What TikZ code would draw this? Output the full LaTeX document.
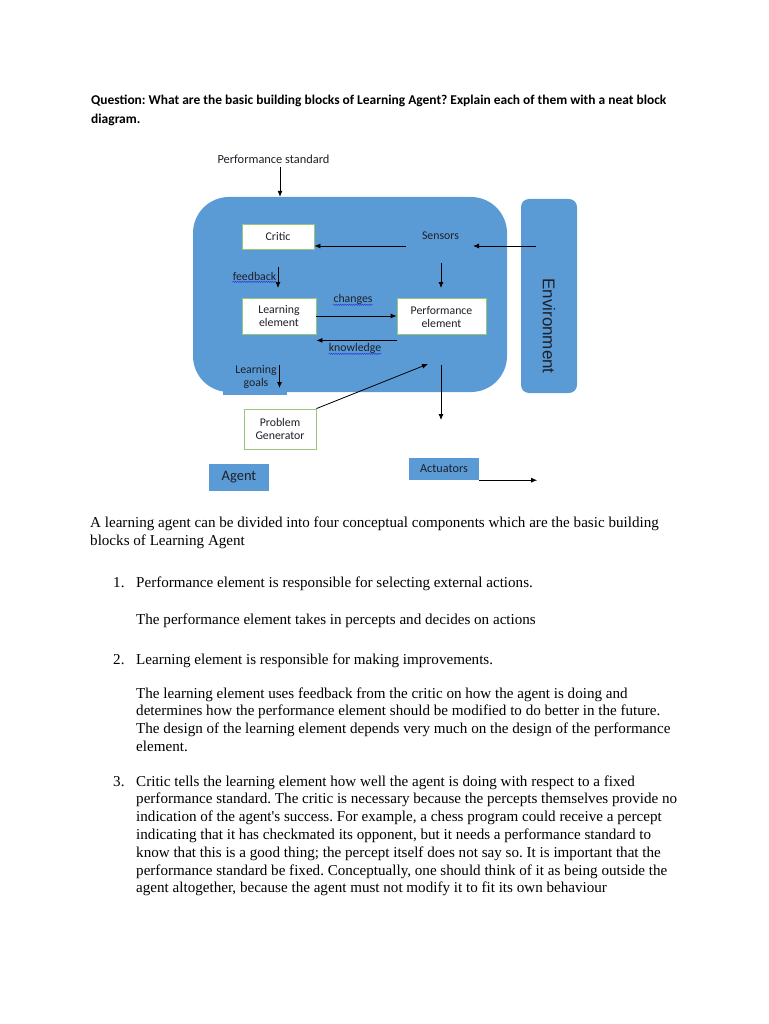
\documentclass[tikz,border=0pt]{standalone}
\usepackage{fontspec}
\setmainfont{Liberation Serif}
\newfontfamily\calibri{Carlito}
\newfontfamily\arial{Liberation Sans}
\usepackage{tikz}
\usetikzlibrary{arrows.meta,positioning,decorations.pathmorphing}
\frenchspacing

\definecolor{officeblue}{RGB}{91,155,213}
\definecolor{boxgreen}{RGB}{150,200,120}
\definecolor{spellblue}{RGB}{40,60,220}
\definecolor{labeltext}{RGB}{30,30,40}

\tikzstyle{block} = [rectangle, draw=boxgreen, fill=white, line width=0.8pt,
    text centered, align=center, inner sep=0pt, text=labeltext,
    font=\calibri\fontsize{11.8}{13}\selectfont]
\tikzstyle{bluebox} = [rectangle, fill=officeblue, inner sep=0pt, text=labeltext,
    font=\calibri\fontsize{12.2}{13}\selectfont]
\tikzstyle{lbl} = [inner sep=0pt, align=center, text=labeltext,
    font=\calibri\fontsize{11.8}{12.5}\selectfont]
\tikzstyle{arr} = [-{Latex[length=6pt,width=5pt]}, line width=0.8pt]
% multi-line nodes: base is the baseline of the last line
\tikzstyle{para} = [anchor=base west, align=left, inner sep=0pt,
    font=\fontsize{15.1}{17.8}\selectfont]
\tikzstyle{spell} = [spellblue, line width=0.5pt, decorate,
    decoration={snake, amplitude=0.6pt, segment length=2.2pt}]

\begin{document}
\begin{tikzpicture}[x=1pt,y=-1pt]
\useasboundingbox (0,0) rectangle (768,1024);

% question
\node[para, font=\calibri\bfseries\fontsize{13.45}{19}\selectfont] (question) at (91,124)
    {Question: What are the basic building blocks of Learning Agent? Explain each of them with a neat block\\diagram.};

% agent and environment
\node[lbl, font=\calibri\fontsize{12.4}{13}\selectfont] (perfstd) at (273.5,159) {Performance standard};
\node[bluebox, rounded corners=36pt, minimum width=314pt, minimum height=195pt] (agentbody) at (350,294.5) {};
\fill[officeblue] (223,380) rectangle (287,395);
\node[bluebox, rounded corners=8pt, minimum width=56pt, minimum height=194pt] (env) at (549,296) {};
\node[lbl, rotate=-90, font=\arial\fontsize{17}{17}\selectfont] (envtext) at ([yshift=-30pt]env.center) {Environment};

% blocks
\node[block, minimum width=72pt, minimum height=25pt] (critic) at (278,236.5) {Critic};
\node[lbl] (sensors) at (440.5,236) {Sensors};
\node[block, minimum width=74pt, minimum height=36pt] (learn) at (279,316) {Learning\\element};
\node[block, minimum width=89pt, minimum height=36pt] (perf) at (441.5,316.5) {Performance\\element};
\node[lbl] (feedback) at (254.5,276) {feedback};
\node[lbl] (changes) at (353,299) {changes};
\node[lbl] (knowledge) at (355,348) {knowledge};
\node[lbl] (goals) at (256,377) {Learning\\goals};
\node[block, minimum width=72pt, minimum height=40pt] (probgen) at (280,429) {Problem\\Generator};
\node[bluebox, minimum width=70pt, minimum height=22pt] (actuators) at (444,469) {Actuators};
\node[bluebox, minimum width=60pt, minimum height=27pt, font=\calibri\fontsize{14.5}{15}\selectfont] (agent) at (239,477.5) {Agent};

% free ends
\coordinate (stdtop) at ([xshift=6.5pt,yshift=-3pt]perfstd.south);
\coordinate (sensleft) at (406,246);
\coordinate (envin) at (536,246);
\coordinate (sensright) at (473,246);
\coordinate (sensdown) at (441,263);
\coordinate (fbtop) at (278,267);
\coordinate (knowstart) at ([yshift=-5.5pt]perf.south west);
\coordinate (goaltop) at (279.5,365);
\coordinate (pgtip) at (428,364);
\coordinate (actout) at (441,365);

\draw[arr] (stdtop) -- (stdtop |- agentbody.north);
\draw[arr] (sensleft) -- (sensleft -| critic.east);
\draw[arr] (envin) -- (sensright);
\draw[arr] (sensdown) -- ++(0,25);
\draw[arr] (fbtop) -- ++(0,21);
\draw[arr] (learn.east) -- (learn.east -| perf.west);
\draw[arr] (knowstart) -- (knowstart -| learn.east);
\draw[arr] (goaltop) -- ++(0,23);
\draw[arr] (probgen.north east) -- (pgtip);
\draw[arr] (actout) -- ++(0,55);
\draw[arr] (actuators.south east) -- ++(58,0);

% spell check marks
\draw[spell] ([yshift=-1.5pt]feedback.south west) -- ([yshift=-1.5pt]feedback.south east);
\draw[spell] ([yshift=-0.5pt]changes.south west) -- ([yshift=-0.5pt]changes.south east);
\draw[spell] ([yshift=-0.5pt]knowledge.south west) -- ([yshift=-0.5pt]knowledge.south east);

% text
\node[para] (intro) at (90,545) {A learning agent can be divided into four conceptual components which are the basic building\\blocks of Learning Agent};
\node[para] (num1) at (113,587) {1.};
\node[para] (item1) at (136,587) {Performance element is responsible for selecting external actions.};
\node[para] (item1b) at (136,624) {The performance element takes in percepts and decides on actions};
\node[para] (num2) at (113,664) {2.};
\node[para] (item2) at (136,664) {Learning element is responsible for making improvements.};
\node[para] (item2b) at (136,751.4) {The learning element uses feedback from the critic on how the agent is doing and\\
    determines how the performance element should be modified to do better in the future.\\
    The design of the learning element depends very much on the design of the performance\\
    element.};
\node[para] (num3) at (113,786) {3.};
\node[para] (item3) at (136,892.8) {Critic tells the learning element how well the agent is doing with respect to a fixed\\
    performance standard. The critic is necessary because the percepts themselves provide no\\
    indication of the agent\textquotesingle s success. For example, a chess program could receive a percept\\
    indicating that it has checkmated its opponent, but it needs a performance standard to\\
    know that this is a good thing; the percept itself does not say so. It is important that the\\
    performance standard be fixed. Conceptually, one should think of it as being outside the\\
    agent altogether, because the agent must not modify it to fit its own behaviour};
\end{tikzpicture}
\end{document}
